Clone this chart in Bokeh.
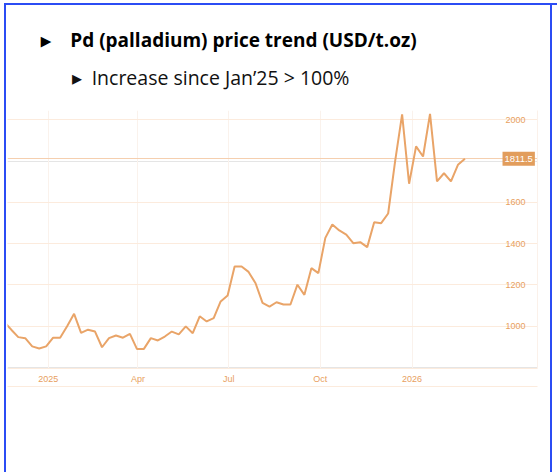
import pandas as pd
from bokeh.plotting import figure
from bokeh.models import (Range1d, LinearAxis, DatetimeAxis, FixedTicker, Grid,
                          Label, Title)
from bokeh.embed import file_html
from bokeh.resources import INLINE

# ---------------- data ----------------
start_date = "2024-11-18"          # first weekly observation
prices = [1020, 983, 947, 942, 902, 892, 902, 944, 944, 1000,
          1060, 968, 983, 974, 898, 942, 955, 944, 963, 890,
          890, 942, 931, 950, 974, 960, 999, 966, 1048, 1023,
          1039, 1120, 1149, 1289, 1289, 1263, 1208, 1113, 1095, 1116,
          1105, 1105, 1201, 1152, 1281, 1257, 1428, 1493, 1464, 1444,
          1402, 1407, 1383, 1504, 1499, 1546, 1800, 2026, 1690, 1871,
          1822, 2029, 1702, 1741, 1702, 1782, 1811.5]
dates = pd.date_range(start_date, periods=len(prices), freq="7D")

x_tick_dates = ["2025-01-01", "2025-04-01", "2025-07-01", "2025-10-01", "2026-01-01"]
x_tick_labels = ["2025", "Apr", "Jul", "Oct", "2026"]
y_ticks = [1000, 1200, 1400, 1600, 2000]
last_price = prices[-1]

NB = "\u00A0"
title_main = "\u25B8" + NB * 4 + "Pd (palladium) price trend (USD/t.oz)"
title_sub = "\u25B8" + NB * 2 + "Increase since Jan\u201925 > 100%"

# ---------------- styling ----------------
LINE = "#E9A468"
TICK_TXT = "#E8A060"
GRID_H = "#FCEBDD"
GRID_V = "#FAF2EC"
BLUE = "#2B4CF4"

x_range = Range1d(pd.Timestamp("2024-11-21 05:00"), pd.Timestamp("2026-05-06 19:00"))
y_range = Range1d(795, 2045)

p = figure(width=557, height=472, x_range=x_range, y_range=y_range,
           x_axis_type=None, y_axis_location=None,
           output_backend="svg", toolbar_location=None,
           min_border_left=7, min_border_right=20,
           min_border_top=110, min_border_bottom=104)
p.outline_line_color = None
p.background_fill_color = "white"
p.border_fill_alpha = 0
# slide frame (blue rules at the left, top and right edges)
p.styles = {"box-shadow": (f"inset 4px 3px 0 0 #ffffff, inset 6px 5px 0 0 {BLUE}, "
                           f"inset -5px 0 0 0 #ffffff, inset -7px 0 0 0 {BLUE}")}

tick_ms = [float(pd.Timestamp(d).value // 10**6) for d in x_tick_dates]
xticker = FixedTicker(ticks=tick_ms)
yticker = FixedTicker(ticks=y_ticks)

p.add_layout(Grid(dimension=0, ticker=xticker, grid_line_color=GRID_V, grid_line_width=1))
p.add_layout(Grid(dimension=1, ticker=yticker, grid_line_color=GRID_H, grid_line_width=1))
# current-price reference line
p.add_layout(Grid(dimension=1, ticker=FixedTicker(ticks=[last_price]),
                  grid_line_color="#F5CFAF", grid_line_width=1))

xaxis = DatetimeAxis(ticker=xticker,
                     major_label_overrides=dict(zip(tick_ms, x_tick_labels)),
                     major_tick_out=0, major_tick_in=0,
                     minor_tick_out=0, minor_tick_in=0,
                     major_label_standoff=5,
                     axis_line_color=GRID_H,
                     major_label_text_font="Liberation Sans",
                     major_label_text_font_size="9px",
                     major_label_text_color=TICK_TXT)
p.add_layout(xaxis, "below")

xaxis2 = DatetimeAxis(ticker=FixedTicker(ticks=[]),
                      major_tick_out=0, major_tick_in=0,
                      minor_tick_out=0, minor_tick_in=0,
                      major_label_text_font_size="0px",
                      axis_line_color=GRID_H)
p.add_layout(xaxis2, "below")

# right axis: tick labels pulled back into the chart's label column
yaxis = LinearAxis(ticker=yticker,
                   major_tick_out=0, major_tick_in=0,
                   minor_tick_out=0, minor_tick_in=0,
                   major_label_standoff=-32,
                   axis_line_color="#FBF1EA",
                   major_label_text_font="Liberation Sans",
                   major_label_text_font_size="9px",
                   major_label_text_color=TICK_TXT)
p.add_layout(yaxis, "right")

p.line(dates, prices, line_color=LINE, line_width=2)

p.add_layout(Label(x=pd.Timestamp("2026-04-01 17:00"), y=last_price,
                   text=f"{last_price}", text_align="left", text_baseline="middle",
                   text_font="Liberation Sans", text_font_size="9.5px",
                   text_color="white", background_fill_color="#E29D5C",
                   padding=(2, 4), level="overlay"))

# titles: added nearest-first
p.add_layout(Title(text=title_sub, align="left", offset=64, standoff=39,
                   text_font="Open Sans", text_font_size="19.5px",
                   text_font_style="normal", text_color="#111111"), "above")
p.add_layout(Title(text=title_main, align="left", offset=33, standoff=-20,
                   text_font="Open Sans", text_font_size="19px",
                   text_font_style="bold", text_color="black"), "above")

open("out.html", "w").write(file_html(p, INLINE))
